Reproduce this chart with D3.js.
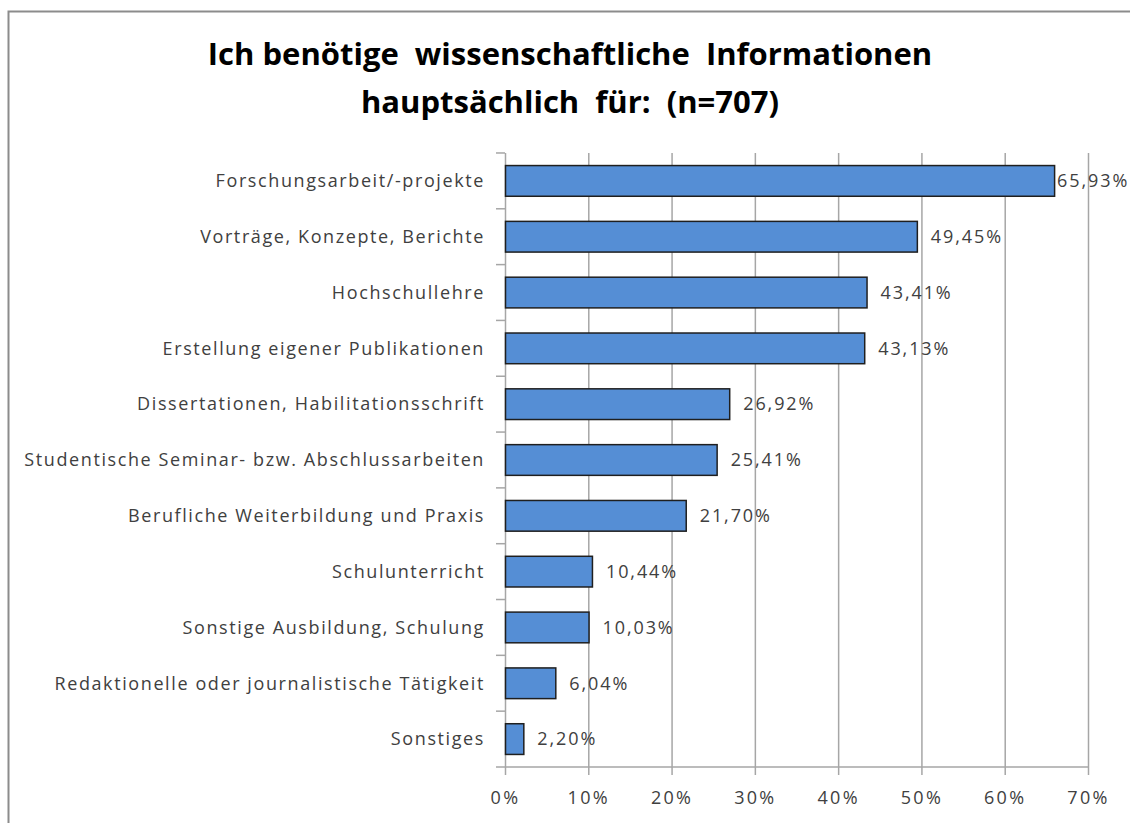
<!DOCTYPE html>
<html>
<head>
<meta charset="utf-8">
<script src="https://cdn.jsdelivr.net/npm/d3@7"></script>
<style>
	body { margin: 0; background: #fff; }
	svg { display: block; }
	text { white-space: pre; }
</style>
</head>
<body>
<svg id="chart" width="1130" height="823"></svg>
<script>
// Ich benötige wissenschaftliche Informationen hauptsächlich für
const categories = [
	"Forschungsarbeit/-projekte",
	"Vorträge, Konzepte, Berichte",
	"Hochschullehre",
	"Erstellung eigener Publikationen",
	"Dissertationen, Habilitationsschrift",
	"Studentische Seminar- bzw. Abschlussarbeiten",
	"Berufliche Weiterbildung und Praxis",
	"Schulunterricht",
	"Sonstige Ausbildung, Schulung",
	"Redaktionelle oder journalistische Tätigkeit",
	"Sonstiges"
]
const values = [65.93, 49.45, 43.41, 43.13, 26.92, 25.41, 21.70, 10.44, 10.03, 6.04, 2.20]
const ticks = [0, 10, 20, 30, 40, 50, 60, 70]
const titleLines = ["Ich benötige  wissenschaftliche  Informationen", "hauptsächlich  für:  (n=707)"]

const font = "'Open Sans', sans-serif"
const margin = { top: 153, left: 505, right: 42, bottom: 56 }
const width = 1130
const height = 823
const plotW = width - margin.left - margin.right
const plotH = height - margin.top - margin.bottom

const svg = d3.select("#chart")

// outer frame of the chart area
svg.append("path")
	.attr("d", `M8.5,${height} V11.5 H${width}`)
	.attr("fill", "none")
	.attr("stroke", "#8c8c8c")
	.attr("stroke-width", 2)

svg.append("g")
	.selectAll("text")
	.data(titleLines)
	.enter().append("text")
		.attr("x", 570)
		.attr("y", (d, i) => 65 + i * 48)
		.attr("text-anchor", "middle")
		.attr("font-family", font)
		.attr("font-weight", "bold")
		.attr("font-size", 31)
		.attr("fill", "#000")
		.text(d => d)

const x = d3.scaleLinear()
	.domain([0, 70])
	.range([0, plotW])
const y = d3.scaleBand()
	.domain(categories)
	.range([0, plotH])
	.paddingInner(0.45)
	.paddingOuter(0.225)

const chart = svg.append("g")
	.attr("transform", `translate(${margin.left}, ${margin.top})`)

// vertical gridlines
chart.append("g")
	.selectAll("line")
	.data(ticks.slice(1))
	.enter().append("line")
		.attr("x1", d => x(d) + 0.5)
		.attr("x2", d => x(d) + 0.5)
		.attr("y1", 0)
		.attr("y2", plotH)
		.attr("stroke", "#a6a6a6")
		.attr("stroke-width", 1.5)

// category axis with ticks on the band edges
chart.append("line")
	.attr("x1", 0.5).attr("x2", 0.5)
	.attr("y1", 0).attr("y2", plotH)
	.attr("stroke", "#a6a6a6").attr("stroke-width", 1.5)
chart.append("g")
	.selectAll("line")
	.data(categories)
	.enter().append("line")
		.attr("x1", -9).attr("x2", 0)
		.attr("y1", d => y(d) - y.bandwidth() * 0.41)
		.attr("y2", d => y(d) - y.bandwidth() * 0.41)
		.attr("stroke", "#a6a6a6").attr("stroke-width", 1.5)

chart.append("g")
	.selectAll("text")
	.data(categories)
	.enter().append("text")
		.attr("x", -20)
		.attr("y", d => y(d) + y.bandwidth() / 2)
		.attr("dy", "0.35em")
		.attr("text-anchor", "end")
		.attr("font-family", font)
		.attr("font-size", 18)
		.attr("letter-spacing", 1.6)
		.attr("fill", "#404040")
		.text(d => d)

// value axis at the bottom
const xAxis = chart.append("g")
	.attr("transform", `translate(0, ${plotH})`)
	.call(d3.axisBottom(x)
		.tickValues(ticks)
		.tickSize(8)
		.tickFormat(d => d + "%"))
xAxis.select(".domain").remove()
xAxis.insert("line", ":first-child")
	.attr("x1", -9).attr("x2", plotW + 1)
	.attr("stroke", "#a6a6a6").attr("stroke-width", 1.5)
xAxis.selectAll(".tick line")
	.attr("stroke", "#a6a6a6").attr("stroke-width", 1.5)
xAxis.selectAll(".tick text")
	.attr("y", 24)
	.attr("font-family", font)
	.attr("font-size", 18)
	.attr("letter-spacing", 2.3)
	.attr("fill", "#404040")

// bars
chart.append("g")
	.selectAll("rect")
	.data(values)
	.enter().append("rect")
		.attr("x", 0.5)
		.attr("y", (d, i) => y(categories[i]))
		.attr("width", d => x(d))
		.attr("height", y.bandwidth())
		.attr("fill", "#558ed5")
		.attr("stroke", "#1f1f1f")
		.attr("stroke-width", 1.5)

// data labels, pulled in near the right edge but never over the bar
const labels = chart.append("g")
	.selectAll("text")
	.data(values)
	.enter().append("text")
		.attr("y", (d, i) => y(categories[i]) + y.bandwidth() / 2)
		.attr("dy", "0.35em")
		.attr("font-family", font)
		.attr("font-size", 18)
		.attr("letter-spacing", 1.9)
		.attr("fill", "#404040")
		.text(d => d.toFixed(2).replace(".", ",") + "%")
labels.attr("x", function (d) {
	const w = this.getComputedTextLength()
	return Math.max(x(d) + 3, Math.min(x(d) + 14, plotW + margin.right - 3 - w))
})
</script>
</body>
</html>
